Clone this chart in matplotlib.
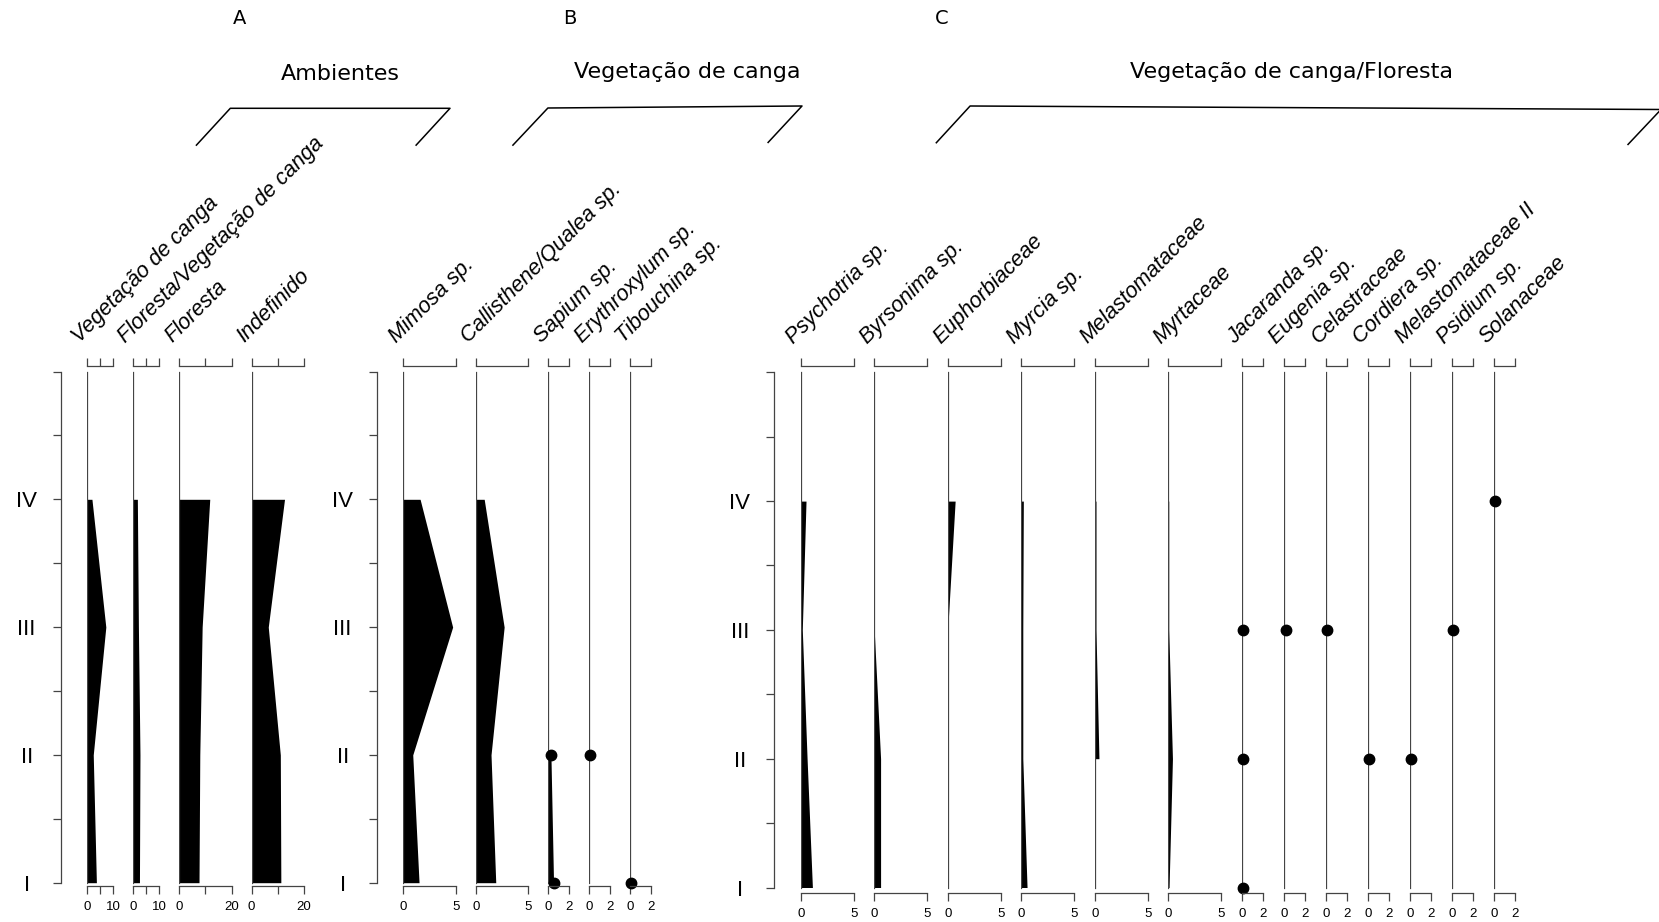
import numpy as np
import matplotlib
matplotlib.use("Agg")
import matplotlib.pyplot as plt

plt.rcParams['font.family'] = ['Liberation Sans', 'DejaVu Sans']

W, H, DPI = 1659, 922, 100

# ---------------- data ----------------
levels = [1, 2, 3, 4]
level_labels = ['I', 'II', 'III', 'IV']

# Panel A - Ambientes
amb_names = ['Vegetação de canga', 'Floresta/Vegetação de canga', 'Floresta', 'Indefinido']
amb_max = [10, 10, 20, 20]
amb_veg_canga = [3.7, 2.5, 7.3, 2.0]
amb_flor_veg = [2.5, 2.7, 2.1, 1.7]
amb_floresta = [7.6, 7.9, 8.8, 11.7]
amb_indef = [11.2, 11.0, 6.4, 12.6]

# Panel B - Vegetação de canga
canga_names = ['Mimosa sp.', 'Callisthene/Qualea sp.', 'Sapium sp.', 'Erythroxylum sp.', 'Tibouchina sp.']
canga_max = [5, 5, 2, 2, 2]
mimosa = [1.5, 0.9, 4.7, 1.6]
callisthene = [1.9, 1.45, 2.7, 0.8]
sapium = [0.5, 0.25, 0, 0]
erythroxylum = [0, 0.1, 0, 0]
tibouchina = [0.1, 0, 0, 0]

# Panel C - Vegetação de canga/Floresta
mix_names = ['Psychotria sp.', 'Byrsonima sp.', 'Euphorbiaceae', 'Myrcia sp.', 'Melastomataceae',
             'Myrtaceae', 'Jacaranda sp.', 'Eugenia sp.', 'Celastraceae', 'Cordiera sp.',
             'Melastomataceae II', 'Psidium sp.', 'Solanaceae']
mix_max = [5, 5, 5, 5, 5, 5, 2, 2, 2, 2, 2, 2, 2]
psychotria = [1.1, 0.6, 0.15, 0.5]
byrsonima = [0.6, 0.6, 0, 0]
euphorbiaceae = [0, 0, 0, 0.7]
myrcia = [0.55, 0.15, 0.15, 0.2]
melastomataceae = [np.nan, 0.4, 0.12, 0.12]
myrtaceae = [0.08, 0.4, 0.05, 0.05]
jacaranda = [0.1, 0.1, 0.1, 0]
eugenia = [0, 0, 0.2, 0]
celastraceae = [0, 0, 0.1, 0]
cordiera = [0, 0.1, 0, 0]
melastomataceae2 = [0, 0.1, 0, 0]
psidium = [0, 0, 0.1, 0]
solanaceae = [0, 0, 0, 0.1]

panels = [
    dict(names=amb_names, maxes=amb_max,
         values=[amb_veg_canga, amb_flor_veg, amb_floresta, amb_indef],
         axis_x=60.7, first=26.0, gap=20.0, ppu=2.62, ppu_small=2.62,
         lvl1=882.7, lvl5=371.5, top=366.0, bot=886.4, label_y=343.0),
    dict(names=canga_names, maxes=canga_max,
         values=[mimosa, callisthene, sapium, erythroxylum, tibouchina],
         axis_x=376.7, first=26.6, gap=20.0, ppu=10.5, ppu_small=10.5,
         lvl1=882.7, lvl5=371.5, top=366.0, bot=886.4, label_y=343.0),
    dict(names=mix_names, maxes=mix_max,
         values=[psychotria, byrsonima, euphorbiaceae, myrcia, melastomataceae, myrtaceae,
                 jacaranda, eugenia, celastraceae, cordiera, melastomataceae2, psidium, solanaceae],
         axis_x=774.0, first=26.7, gap=20.3, ppu=10.64, ppu_small=10.85,
         lvl1=887.5, lvl5=372.3, top=366.0, bot=893.0, label_y=344.0),
]

AX_COL = '#444444'

fig = plt.figure(figsize=(W / DPI, H / DPI), dpi=DPI)

# overlay axes in pixel coordinates for headers / brackets
ov = fig.add_axes([0, 0, 1, 1])
ov.set_xlim(0, W)
ov.set_ylim(H, 0)
ov.axis('off')

brackets = [
    [(195.9, 145.7), (230.3, 108.3), (450.0, 108.3), (415.6, 145.7)],
    [(512.4, 145.7), (547.9, 108.0), (802.0, 106.0), (767.6, 143.0)],
    [(935.8, 143.3), (970.1, 106.0), (1661.0, 109.5), (1627.5, 145.0)],
]
for br in brackets:
    xs, ys = zip(*br)
    ov.plot(xs, ys, color='black', lw=1.1, solid_capstyle='butt')

for txt, x in [('A', 239.5), ('B', 569.5), ('C', 941.5)]:
    ov.text(x, 18, txt, ha='center', va='center', fontsize=14, family='DejaVu Sans')
for txt, x, y in [('Ambientes', 340.7, 74), ('Vegetação de canga', 687, 71.7),
                  ('Vegetação de canga/Floresta', 1292, 71.7)]:
    ov.text(x, y, txt, ha='center', va='center', fontsize=16, family='DejaVu Sans')


def fig_rect(left_px, top_px, width_px, bot_px):
    return [left_px / W, 1 - bot_px / H, width_px / W, (bot_px - top_px) / H]


for p in panels:
    ppl = (p['lvl1'] - p['lvl5']) / 4.0
    ylim = (1 - (p['bot'] - p['lvl1']) / ppl, 5 + (p['lvl5'] - p['top']) / ppl)

    # left stratigraphic axis
    yax = fig.add_axes(fig_rect(p['axis_x'], p['top'], 0.5, p['bot']))
    yax.set_ylim(*ylim)
    yax.patch.set_visible(False)
    for s in ['top', 'right', 'bottom']:
        yax.spines[s].set_visible(False)
    yax.spines['left'].set_bounds(1, 5)
    yax.spines['left'].set_color(AX_COL)
    yax.spines['left'].set_linewidth(0.9)
    yax.set_xticks([])
    yt = np.arange(1, 5.01, 0.5)
    yax.set_yticks(yt)
    lab = {lv: l for lv, l in zip(levels, level_labels)}
    yax.set_yticklabels([lab.get(v, '') for v in yt])
    yax.tick_params(axis='y', direction='out', length=5.5, width=0.9, color=AX_COL,
                    labelsize=16, pad=19)
    for t in yax.get_yticklabels():
        t.set_ha('center')

    x_px = p['axis_x'] + p['first']
    for name, xmax, vals in zip(p['names'], p['maxes'], p['values']):
        small = xmax <= 2
        w_px = xmax * (p['ppu_small'] if small else p['ppu'])
        ax = fig.add_axes(fig_rect(x_px, p['top'], w_px, p['bot']))
        ax.set_xlim(0, xmax)
        ax.set_ylim(*ylim)
        ax.patch.set_visible(False)
        for s in ['left', 'right']:
            ax.spines[s].set_visible(False)
        for s in ['top', 'bottom']:
            ax.spines[s].set_color(AX_COL)
            ax.spines[s].set_linewidth(0.9)
        ax.set_yticks([])
        if xmax >= 10:
            ticks = [0, xmax / 2, xmax]
            tlabels = ['0', '', str(xmax)]
        else:
            ticks = [0, xmax]
            tlabels = ['0', str(xmax)]
        ax.set_xticks(ticks)
        ax.set_xticklabels(tlabels)
        ax.tick_params(axis='x', direction='out', length=5.5, width=0.9, color=AX_COL,
                       labelsize=9.5, pad=5, top=True, labeltop=False)

        v = np.array(vals, dtype=float)
        y = np.array(levels, dtype=float)
        ax.plot([0, 0], [1, 5], color=AX_COL, lw=0.9)
        valid = (v > 0) if small else ~np.isnan(v)
        # contiguous runs
        i = 0
        while i < len(v):
            if valid[i]:
                j = i
                while j + 1 < len(v) and valid[j + 1]:
                    j += 1
                if j > i:
                    ax.fill_betweenx(y[i:j + 1], 0, v[i:j + 1], color='black', lw=0)
                i = j + 1
            else:
                i += 1
        if small:
            m = v > 0
            ax.plot(v[m], y[m], 'o', color='black', ms=7.5, clip_on=False)

        fig.text((x_px - 7) / W, 1 - p['label_y'] / H, name, rotation=45,
                 rotation_mode='anchor', ha='left', va='baseline', fontsize=15.6,
                 style='italic', family='Liberation Sans')
        x_px += w_px + p['gap']

fig.savefig('out.png', dpi=DPI)
